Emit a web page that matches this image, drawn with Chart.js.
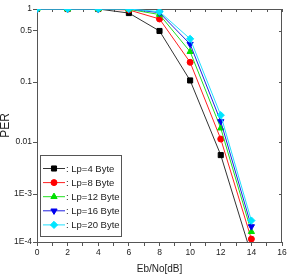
<!DOCTYPE html>
<html>
<head>
<meta charset="utf-8">
<script src="https://cdn.jsdelivr.net/npm/chart.js@4.4.1/dist/chart.umd.min.js"></script>
<style>
html,body{margin:0;padding:0;background:#fff;}
canvas{display:block;}
</style>
</head>
<body>
<canvas id="c" width="287" height="276"></canvas>
<script>
// ---- data ----
const ebno = [0, 2, 4, 6, 8, 10, 12, 14];
const lp4  = [1, 1, 1, 0.88, 0.5,  0.105, 0.0056, 0.000054];
const lp8  = [1, 1, 1, 0.97, 0.73, 0.186, 0.0112, 0.000115];
const lp12 = [1, 1, 1, 0.99, 0.84, 0.26,  0.017,  0.000164];
const lp16 = [1, 1, 1, 1,    0.89, 0.33,  0.022,  0.00021];
const lp20 = [1, 1, 1, 1,    0.92, 0.39,  0.028,  0.00028];
const seriesLabels = ['Lp=4 Byte', 'Lp=8 Byte', 'Lp=12 Byte', 'Lp=16 Byte', 'Lp=20 Byte'];
const xTickLabels = ['0', '2', '4', '6', '8', '10', '12', '14', '16'];
const yTickValues = [1, 0.5, 0.1, 0.01, 0.001, 0.0001];
const yTickLabels = ['1', '0.5', '0.1', '0.01', '1E-3', '1E-4'];

// The reference's log axis has unequal decade heights; this scale reproduces it.
class WarpLogScale extends Chart.LogarithmicScale {
  static id = 'warplog';
  static defaults = Chart.LogarithmicScale.defaults;
  _decades() { return [73, 60, 52, 48]; }
  getPixelForValue(value) {
    if (value === null || value === undefined || isNaN(value) || value <= 0) return NaN;
    const w = this._decades();
    const total = w.reduce((a, b) => a + b, 0);
    const u = -Math.log10(value);
    let pos;
    if (u < 0) pos = u * w[0];
    else {
      let i = Math.floor(u), acc = 0;
      if (i >= w.length) { pos = total + (u - w.length) * w[w.length - 1]; }
      else { for (let k = 0; k < i; k++) acc += w[k]; pos = acc + (u - i) * w[i]; }
    }
    return this.getPixelForDecimal(1 - pos / total);
  }
  getValueForPixel(pixel) {
    const w = this._decades();
    const total = w.reduce((a, b) => a + b, 0);
    const pos = (1 - this.getDecimalForPixel(pixel)) * total;
    let acc = 0;
    for (let k = 0; k < w.length; k++) {
      if (pos <= acc + w[k]) return Math.pow(10, -(k + (pos - acc) / w[k]));
      acc += w[k];
    }
    return Math.pow(10, -(w.length + (pos - total) / w[w.length - 1]));
  }
}
Chart.register(WarpLogScale);

const SANS = "'Liberation Sans', Arial, sans-serif";

const styles = [
  {line: '#333333', fill: '#000000', pointStyle: 'rect', radius: 3.6, rotation: 0},
  {line: '#ff2020', fill: '#ff0000', pointStyle: 'circle', radius: 3, rotation: 0},
  {line: '#20e020', fill: '#00e000', pointStyle: 'triangle', radius: 3.6, rotation: 0},
  {line: '#2020e0', fill: '#0000ee', pointStyle: 'triangle', radius: 3.6, rotation: 180},
  {line: '#20e0ff', fill: '#00e5ff', pointStyle: 'rectRot', radius: 3.6, rotation: 0}
];
const allSeries = [lp4, lp8, lp12, lp16, lp20];

const datasets = allSeries.map((vals, i) => ({
  label: seriesLabels[i],
  data: ebno.map((x, j) => ({x: x, y: vals[j]})),
  order: allSeries.length - 1 - i,
  borderColor: styles[i].line,
  backgroundColor: styles[i].fill,
  pointBackgroundColor: styles[i].fill,
  pointBorderColor: styles[i].fill,
  pointStyle: styles[i].pointStyle,
  pointRotation: styles[i].rotation,
  pointRadius: styles[i].radius,
  pointBorderWidth: 1,
  borderWidth: 1,
  tension: 0,
  fill: false
}));

const framePlugin = {
  id: 'frame',
  beforeDatasetsDraw(chart) {
    const {ctx, chartArea: a, scales: {x, y}} = chart;
    ctx.save();
    ctx.strokeStyle = '#555';
    ctx.lineWidth = 1;
    ctx.beginPath();
    ctx.moveTo(a.left, a.top + 0.5); ctx.lineTo(a.right, a.top + 0.5);
    ctx.moveTo(a.right - 0.5, a.top); ctx.lineTo(a.right - 0.5, a.bottom);
    x.ticks.forEach(t => {
      const px = Math.round(x.getPixelForValue(t.value)) + 0.5;
      ctx.moveTo(px, a.top); ctx.lineTo(px, a.top + 3);
    });
    y.ticks.forEach(t => {
      const py = Math.round(y.getPixelForValue(t.value)) + 0.5;
      ctx.moveTo(a.right, py); ctx.lineTo(a.right - 3, py);
    });
    ctx.stroke();
    ctx.restore();
  }
};

const legendPlugin = {
  id: 'boxLegend',
  afterDatasetsDraw(chart) {
    const {ctx} = chart;
    const bx = 40.5, by = 155.5, bw = 81, bh = 81;
    ctx.save();
    ctx.fillStyle = '#fff';
    ctx.fillRect(bx, by, bw, bh);
    ctx.strokeStyle = '#555';
    ctx.lineWidth = 1;
    ctx.strokeRect(bx, by, bw, bh);
    ctx.font = '9.5px ' + SANS;
    ctx.textBaseline = 'middle';
    ctx.textAlign = 'left';
    chart.data.datasets.forEach((ds, i) => {
      const cy = 168.5 + i * 14.1;
      ctx.strokeStyle = ds.borderColor;
      ctx.beginPath();
      ctx.moveTo(43, cy); ctx.lineTo(65, cy);
      ctx.stroke();
      ctx.fillStyle = ds.pointBackgroundColor;
      ctx.strokeStyle = ds.pointBorderColor;
      Chart.helpers.drawPoint(ctx, {pointStyle: ds.pointStyle, rotation: ds.pointRotation, radius: ds.pointRadius, borderWidth: 1}, 54, cy);
      ctx.fillStyle = '#222';
      ctx.fillText(': ' + ds.label, 66, cy + 0.5);
    });
    ctx.restore();
  }
};

new Chart(document.getElementById('c'), {
  type: 'line',
  data: {datasets},
  plugins: [framePlugin, legendPlugin],
  options: {
    responsive: false,
    animation: false,
    devicePixelRatio: 1,
    layout: {padding: {top: 9, right: 2, left: 0, bottom: 0}},
    plugins: {legend: {display: false}, tooltip: {enabled: false}},
    scales: {
      x: {
        type: 'linear',
        min: 0, max: 16,
        afterBuildTicks: s => { const t = []; for (let v = 0; v <= 16; v++) t.push({value: v}); s.ticks = t; },
        afterFit: s => { s.height = 34; s.paddingLeft = 0; s.paddingRight = 0; },
        ticks: {
          autoSkip: false, maxRotation: 0, padding: 2,
          color: '#222',
          font: {family: SANS, size: 8.5},
          callback: v => xTickLabels.includes(String(v)) ? String(v) : ''
        },
        grid: {drawOnChartArea: false, tickLength: 4, color: '#555', tickColor: '#555'},
        border: {color: '#555', width: 1},
        title: {display: true, text: 'Eb/No[dB]', color: '#222', font: {family: SANS, size: 10, lineHeight: 1.2}, padding: {top: 0, bottom: 1}}
      },
      y: {
        type: 'warplog',
        min: 0.0001, max: 1,
        afterBuildTicks: s => { s.ticks = yTickValues.map(v => ({value: v})); },
        afterFit: s => { s.width = 37; s.paddingTop = 0; s.paddingBottom = 0; },
        ticks: {
          autoSkip: false, padding: 1,
          color: '#222',
          font: {family: SANS, size: 8.5},
          callback: (v) => { const i = yTickValues.indexOf(v); return i >= 0 ? yTickLabels[i] : ''; }
        },
        grid: {drawOnChartArea: false, tickLength: 4, color: '#555', tickColor: '#555'},
        border: {color: '#555', width: 1},
        title: {display: true, text: 'PER', color: '#222', font: {family: SANS, size: 12, lineHeight: 1}, padding: {top: 0, bottom: 0}}
      }
    }
  }
});
</script>
</body>
</html>
